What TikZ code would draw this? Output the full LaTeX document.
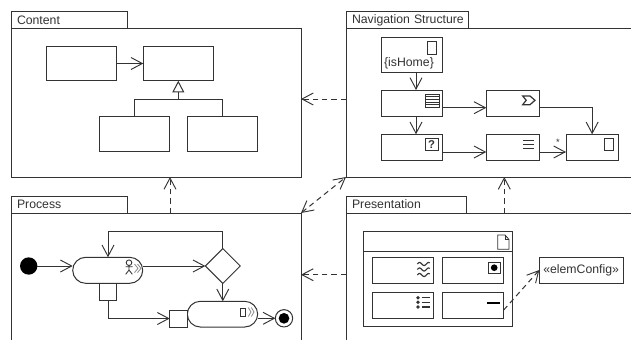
\documentclass[tikz,border=0pt]{standalone}
\usepackage{fontspec}
\setmainfont{Liberation Sans}
\usetikzlibrary{arrows.meta,shapes.geometric}
\definecolor{ink}{HTML}{333333}
\definecolor{soft}{HTML}{8A8A8A}
\tikzset{
  basenode/.style={shape=rectangle,inner sep=0pt,outer sep=0pt},
  boxnode/.style={basenode,draw=ink,line width=0.75pt,fill=white},
  actionnode/.style={boxnode,rounded corners=9.75pt},
  ghostnode/.style={basenode},
  tabnode/.style={basenode,draw=ink,line width=0.75pt,fill=white,font=\fontsize{9.2pt}{11pt}\selectfont,text=ink},
  pkgline/.style={draw=ink,line width=0.75pt},
  link/.style={draw=ink,line width=0.75pt,-{Straight Barb[length=8.5pt,width=9pt,line width=0.7pt]}},
  plain/.style={draw=ink,line width=0.75pt},
  dep/.style={draw=ink,line width=0.75pt,dash pattern=on 4pt off 3pt,-{Straight Barb[length=8.5pt,width=9pt,line width=0.7pt]}},
  depboth/.style={draw=ink,line width=0.75pt,dash pattern=on 4pt off 3pt,{Straight Barb[length=8.5pt,width=9pt,line width=0.7pt]}-{Straight Barb[length=8.5pt,width=9pt,line width=0.7pt]}},
  gentip/.style={draw=ink,line width=0.75pt,-{Triangle[open,length=8.8pt,width=9pt,fill=white]}},
  icon/.style={draw=ink,line width=0.65pt},
  softicon/.style={draw=soft,line width=0.6pt},
  labeltext/.style={inner sep=0pt,outer sep=0pt,text=ink,font=\fontsize{9.2pt}{11pt}\selectfont},
}
\newcommand{\rbox}[6]{\node[#1,minimum width={(#4-#2)*0.75pt},minimum height={(#5-#3)*0.75pt}] (#6) at ({(#2+#4)/2},{(#3+#5)/2}) {};}
\newcommand{\tabbox}[6]{\node[tabnode,text width={(#3-#1)*0.75pt-9pt},inner xsep=4.5pt,align=left,minimum height={(#4-#2)*0.75pt}] (#5) at ({(#1+#3)/2},{(#2+#4)/2}) {\raisebox{-1pt}{\mbox{#6}}};}
\begin{document}
\begin{tikzpicture}[x=0.75pt,y=-0.75pt]
\useasboundingbox[fill=white] (0,0) rectangle (631,340);

% packages
\tabbox{11}{11}{127.5}{28.7}{contenttab}{Content}
\tabbox{346}{11}{468}{28.7}{navtab}{Navigation Structure}
\tabbox{11}{196}{127.5}{213}{processtab}{Process}
\tabbox{346}{196}{466}{213}{prestab}{Presentation}
\rbox{boxnode}{11}{28.7}{301}{177}{contentbody}
\rbox{ghostnode}{346}{28.7}{631}{177}{navbody}
\rbox{ghostnode}{11}{213}{301}{340}{processbody}
\rbox{ghostnode}{346}{213}{631}{340}{presbody}
\draw[pkgline] (navbody.north east) -- (navbody.north west) -- (navbody.south west) -- (navbody.south east);
\draw[pkgline] (processbody.south west) -- (processbody.north west) -- (processbody.north east) -- (processbody.south east);
\draw[pkgline] (presbody.south west) -- (presbody.north west) -- (presbody.north east);

% package dependencies
\coordinate (depa) at (0,99);
\coordinate (depb) at (170,0);
\coordinate (depc) at (0,274.7);
\coordinate (depd) at (504.3,0);
\draw[dep] (depa -| navbody.west) -- (depa -| contentbody.east);
\draw[dep] (depb |- processbody.north) -- (depb |- contentbody.south);
\draw[dep] (depc -| presbody.west) -- (depc -| processbody.east);
\draw[dep] (depd |- presbody.north) -- (depd |- navbody.south);
\draw[depboth] (processbody.north east) -- (navbody.south west);

% content
\rbox{boxnode}{46.3}{46.3}{116.7}{80.7}{ca}
\rbox{boxnode}{143.3}{46.3}{213.3}{80.7}{cb}
\rbox{boxnode}{99.3}{116.7}{169}{151}{cc}
\rbox{boxnode}{187.3}{116.7}{257}{151}{cd}
\draw[link] (ca.east) -- (cb.west);
\coordinate (genjoin) at (178.3,99.3);
\draw[plain] (cc.north) |- (genjoin) -| (cd.north);
\draw[gentip] (genjoin) -- (cb.south);

% navigation
\rbox{boxnode}{381}{37.3}{442}{72}{home}
\rbox{boxnode}{381}{90}{442}{116.3}{menu}
\rbox{boxnode}{381}{134.3}{442}{160}{query}
\rbox{boxnode}{486.3}{90}{539}{116.3}{plink}
\rbox{boxnode}{486.3}{134.3}{539}{160}{index}
\rbox{boxnode}{566}{134.3}{618.3}{160}{page}
\coordinate (navx) at (416,0);
\coordinate (navr) at (0,107.7);
\coordinate (navs) at (0,152);
\draw[link] (navx |- home.south) -- (navx |- menu.north);
\draw[link] (navx |- menu.south) -- (navx |- query.north);
\draw[link] (navr -| menu.east) -- (navr -| plink.west);
\draw[link] (navs -| query.east) -- (navs -| index.west);
\draw[link] (navs -| index.east) -- (navs -| page.west);
\draw[link] (navr -| plink.east) -| (page.north);
\node[labeltext] (homelabel) at (409,63.3) {\{isHome\}};
\node[labeltext,font=\fontsize{7pt}{8pt}\selectfont] (star) at (558,142.5) {*};
\draw[icon] (427,41.7) rectangle (436.3,54);
\draw[icon,fill=white] (425,94) rectangle (439.3,107.3);
\foreach \yy in {96.7,99.3,102,104.7} \draw[icon,line width=0.5pt] (425,\yy) -- (439.3,\yy);
\draw[icon,line width=0.75pt] (425,138.3) rectangle (438.3,150.7);
\node[labeltext,font=\fontsize{8.5pt}{9pt}\selectfont\bfseries] (qmark) at (431.7,144.5) {?};
\draw[icon,line width=0.9pt,line join=miter] (522.7,96) -- (530,96) -- (535,100.3) -- (530,104.7) -- (522.7,104.7) -- (526.2,100.3) -- cycle;
\foreach \yy in {140,144,148} \draw[icon] (523.3,\yy) -- (534,\yy);
\draw[icon] (604,138) rectangle (613,150.7);

% process
\node[basenode,circle,fill=black,minimum size=13pt] (start) at (28.7,266) {};
\rbox{actionnode}{72.7}{257.3}{142.7}{283.3}{act}
\node[basenode,diamond,aspect=1,draw=ink,line width=0.75pt,fill=white,minimum width=26.2pt,minimum height=26.2pt] (dec) at (222.8,266) {};
\rbox{boxnode}{99.3}{283.3}{116.7}{300.7}{pina}
\rbox{actionnode}{187.3}{301.3}{257.7}{327}{actb}
\rbox{boxnode}{169.7}{310}{187}{327}{pinb}
\node[basenode,circle,draw=ink,line width=0.75pt,fill=white,minimum size=13pt] (final) at (284,318.3) {};
\node[basenode,circle,fill=black,minimum size=8pt] (finaldot) at (final.center) {};
\coordinate (looptop) at (108,231.3);
\draw[link] (start.east) -- (start.east -| act.west);
\draw[link] (dec.west -| act.east) -- (dec.west);
\draw[link] (dec.north) |- (looptop) -- (looptop |- act.north);
\draw[link] (dec.south) -- (dec.south |- actb.north);
\draw[link] (pina.south) |- (pinb.west);
\draw[link] (final.west -| actb.east) -- (final.west);
% actor icon
\draw[icon] (129,262.7) circle (2.1pt);
\draw[icon] (129,265.5) -- (129,270) -- (125.7,274.3) (129,270) -- (132.3,274.3) (125.5,266.7) -- (132.5,266.7);
\draw[softicon] (134.5,264) -- (138,268.3) -- (134.5,272.6) (137.5,264) -- (141,268.3) -- (137.5,272.6);
\draw[icon] (240.3,308) rectangle (245.7,316);
\draw[softicon] (248.3,307.5) -- (251,312) -- (248.3,316.5) (251.3,307.5) -- (254,312) -- (251.3,316.5);

% presentation
\rbox{boxnode}{363.3}{231.3}{512.3}{326.7}{pframe}
\coordinate (psep) at (0,251);
\draw[plain] (psep -| pframe.west) -- (psep -| pframe.east);
\rbox{boxnode}{372.3}{257.7}{433.3}{283}{pa}
\rbox{boxnode}{442.3}{257.7}{503.7}{283}{pb}
\rbox{boxnode}{372.3}{292}{433.3}{318.3}{pc}
\rbox{boxnode}{442.3}{292}{503.7}{318.3}{pd}
\rbox{boxnode}{539.3}{257}{623}{283}{elem}
\node[labeltext] (elemlabel) at (elem.center) {«elemConfig»};
\coordinate (pdout) at (503.7,310);
\draw[dep] (pdout) -- (elem.west);
\draw[icon] (497.7,235) -- (505,235) -- (509,239.5) -- (509,249.3) -- (497.7,249.3) -- cycle;
\draw[icon] (505,235) -- (505,239.5) -- (509,239.5);
\foreach \yy in {264,269.5,275}
  \draw[icon,line width=0.85pt] plot[domain=0:12.4,samples=25,smooth] ({417.3+\x},{\yy-1.5*sin(\x*40)});
\draw[icon] (488.3,262) rectangle (500,273.3);
\fill[black] (494.2,267.7) circle (2.5pt);
\foreach \yy in {297.7,302.3,307} {
  \fill[ink] (418,\yy) circle (1.4pt);
  \draw[icon,line width=1pt] (421.5,\yy) -- (430,\yy);
}
\draw[icon,line width=1.2pt,draw=black] (487.3,302.7) -- (500,302.7);
\end{tikzpicture}
\end{document}
